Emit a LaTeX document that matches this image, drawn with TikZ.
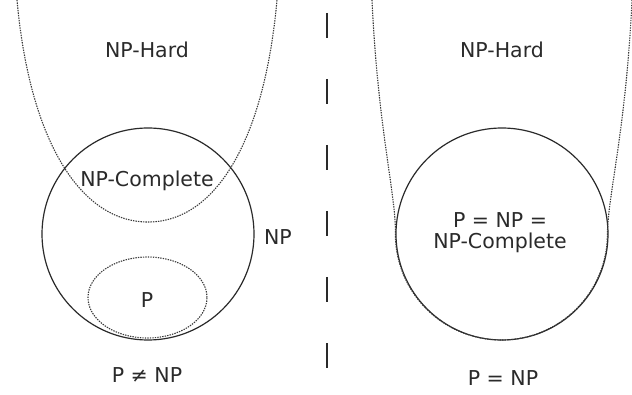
\documentclass[tikz,border=0pt]{standalone}
\usepackage{fontspec}
\setmainfont{DejaVu Sans}
\usetikzlibrary{shapes.geometric}
\definecolor{ink}{HTML}{2A2A2A}
\definecolor{dotink}{HTML}{3A3A3A}
\tikzset{
  setline/.style={draw=ink, line width=1.2pt},
  dotline/.style={draw=dotink, line width=1.1pt, dash pattern=on 1.4pt off 1.1pt},
  sep/.style={draw=ink, line width=1.6pt, dash pattern=on 25pt off 41pt},
  lbl/.style={text=ink, font=\fontsize{20.5}{21}\selectfont, inner sep=0pt, align=center}
}
\begin{document}
\begin{tikzpicture}[x=1pt,y=1pt]
\useasboundingbox (0,0) rectangle (632,394);
\begin{scope}
\clip (0,0) rectangle (632,394);
% left side
\node[setline, circle, minimum size=212pt, inner sep=0pt] (npL) at (148,160) {};
\node[dotline, ellipse, minimum width=119pt, minimum height=81pt, inner sep=0pt] (pL) at (147.5,96.5) {};
\coordinate (uLtop) at (17,394);
\coordinate (uLbot) at (148,172);
\coordinate (uRtop) at (277,394);
\draw[dotline] (uLtop) .. controls (30,250) and (82,172) .. (uLbot)
  .. controls (214,172) and (264,250) .. (uRtop);
% separator
\coordinate (sepTop) at (327,381);
\coordinate (sepBot) at (327,26);
\draw[sep] (sepTop) -- (sepBot);
% right side
\node[setline, circle, minimum size=212pt, inner sep=0pt] (npR) at (502,160) {};
\coordinate (vLtop) at (372,394);
\coordinate (vRtop) at (632,394);
\draw[dotline] (vLtop) .. controls (378,264) and (396,200) .. (npR.west)
  arc[start angle=180, end angle=360, radius=106pt]
  .. controls (608,200) and (626,264) .. (vRtop);
\end{scope}
% labels
\node[lbl] (hardL) at (147,344) {NP-Hard};
\node[lbl] (npcL) at (147,213) {NP-Complete};
\node[lbl] (npLbl) at (278,157) {NP};
\node[lbl] (pLbl) at (147,94) {P};
\node[lbl] (capL) at (147,19) {P ≠ NP};
\node[lbl] (hardR) at (502,344) {NP-Hard};
\node[lbl] (eqR) at (500,161.5) {P = NP =\\NP-Complete};
\node[lbl] (capR) at (503,16) {P = NP};
\end{tikzpicture}
\end{document}
